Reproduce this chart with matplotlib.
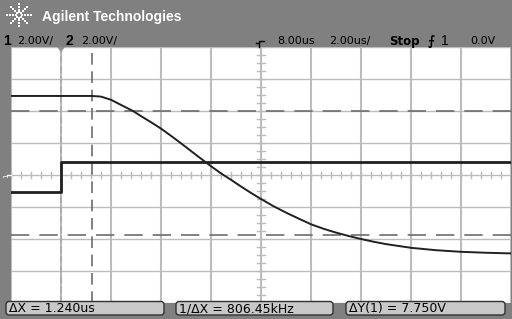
import numpy as np
import matplotlib
matplotlib.use('Agg')
import matplotlib.pyplot as plt
from matplotlib.patches import FancyBboxPatch

# Scope trace readings (time in us, voltage in V)
ch1_t = [-2.0, 1.24, 1.6, 2.0, 2.4, 2.88, 3.2, 3.6, 4.0, 4.4, 4.8, 5.2, 5.6, 6.0, 6.4,
         6.8, 7.2, 7.6, 8.0, 8.5, 9.0, 9.5, 10.0, 10.5, 11.0, 11.5, 12.0, 12.5, 13.0,
         14.0, 15.0, 16.0, 17.0, 18.0]
ch1_v = [4.94, 4.94, 4.9, 4.7, 4.38, 4.0, 3.68, 3.3, 2.9, 2.45, 1.98, 1.5, 1.02, 0.55, 0.1,
         -0.3, -0.72, -1.12, -1.5, -1.95, -2.35, -2.72, -3.08, -3.36, -3.6, -3.81, -4.0,
         -4.17, -4.32, -4.55, -4.7, -4.8, -4.86, -4.9]
ch2_t = [-2.0, 0.0, 0.0, 18.0]
ch2_v = [-1.09, -1.09, 0.84, 0.84]

cursor_x = [0.0, 1.24]
cursor_y = [4.0, -3.75]

header_left = ['1', '2.00V/', '2', '2.00V/']
header_right = ['8.00us', '2.00us/', 'Stop', '1', '0.0V']
readouts = ['ΔX = 1.240us', '1/ΔX = 806.45kHz', 'ΔY(1) = 7.750V']

W, H = 512, 319
BG = '#808080'
FONT = 'Liberation Sans'
fig = plt.figure(figsize=(W / 100, H / 100), dpi=100, facecolor=BG)

# screen area
ax = fig.add_axes([11 / W, (H - 303) / H, 500 / W, 256 / H])
ax.set_facecolor('white')
ax.set_xlim(-2, 18)
ax.set_ylim(-8, 8)
for s in ax.spines.values():
    s.set_visible(False)
ax.set_xticks([])
ax.set_yticks([])

gc = '#bcbcbc'
for x in np.arange(-2, 18.1, 2):
    ax.axvline(x, color=gc, lw=1.5, zorder=1)
for y in np.arange(-8, 8.1, 2):
    ax.axhline(y, color=gc, lw=1.0, zorder=1)

# minor ticks on center lines
for x in np.arange(-2, 18.01, 0.4):
    ax.plot([x, x], [-0.2, 0.2], color=gc, lw=1, zorder=1)
for y in np.arange(-8, 8.01, 0.5):
    ax.plot([7.85, 8.15], [y, y], color=gc, lw=1, zorder=1)

# cursors
ax.axvline(cursor_x[0], color='#a8a8a8', lw=1.2, ls=(0, (4, 2)), zorder=2)
ax.axvline(cursor_x[1], color='#6c6c6c', lw=1.2, ls=(0, (7, 4)), zorder=2)
for cy in cursor_y:
    ax.axhline(cy, color='#6c6c6c', lw=1.2, ls=(0, (11, 6)), zorder=2)

ax.plot(ch1_t, ch1_v, color='#202020', lw=1.4, zorder=3)
ax.plot(ch2_t, ch2_v, color='#202020', lw=2.0, zorder=3)

# overlay for header / footer in pixel coords
ov = fig.add_axes([0, 0, 1, 1], facecolor='none')
ov.set_xlim(0, W)
ov.set_ylim(H, 0)
ov.axis('off')

# logo spark
cx, cy = 19, 15
for ang in np.arange(0, 360, 45):
    r = np.array([3, 6, 9, 12])
    ov.scatter(cx + r * np.cos(np.radians(ang)), cy + r * np.sin(np.radians(ang)) * 0.9,
               s=1.5, color='white', marker='s', lw=0)
ov.text(42, 17, 'Agilent Technologies', color='white', fontsize=10, fontweight='bold',
        family=FONT, va='center', ha='left')

# second header row
ov.text(3, 41, header_left[0], fontsize=10, fontweight='bold', family=FONT, va='center')
ov.text(17, 41, header_left[1], fontsize=8, va='center')
ov.text(66, 41, header_left[2], fontsize=10, fontweight='bold', family=FONT, va='center')
ov.text(81, 41, header_left[3], fontsize=8, va='center')
ov.plot([256, 259], [43, 43], color='black', lw=1)
ov.plot([259, 259, 264], [47, 41, 41], color='black', lw=1)
ov.text(277, 41, header_right[0], fontsize=8, va='center')
ov.text(329, 41, header_right[1], fontsize=8, va='center')
ov.text(389, 41, header_right[2], fontsize=8.5, fontweight='bold', va='center')
ov.text(428, 41, '⨍', fontsize=9, fontweight='bold', va='center')
ov.text(441, 41, header_right[3], fontsize=10, family=FONT, va='center')
ov.text(470, 41, header_right[4], fontsize=8, va='center')

# left strip ground markers and trigger point marker
ov.text(3, 176, '1', color='white', fontsize=5, va='center', rotation=90)
ov.plot([7, 11], [175, 175], color='white', lw=1)
ov.fill([57, 65, 61], [47, 47, 52], color='#909090', lw=0)

# readout boxes
for (x0, x1), txt in zip([(3, 167), (173, 336), (343, 508)], readouts):
    ov.add_patch(FancyBboxPatch((x0 + 3, 301.5), x1 - x0 - 6, 13.5,
                                boxstyle='round,pad=0,rounding_size=3',
                                fc='#c8c8c8', ec='#303030', lw=1))
    ov.text(x0 + 6, 308.5, txt, fontsize=9, va='center', ha='left')

fig.savefig('out.png', dpi=100, facecolor=BG)
